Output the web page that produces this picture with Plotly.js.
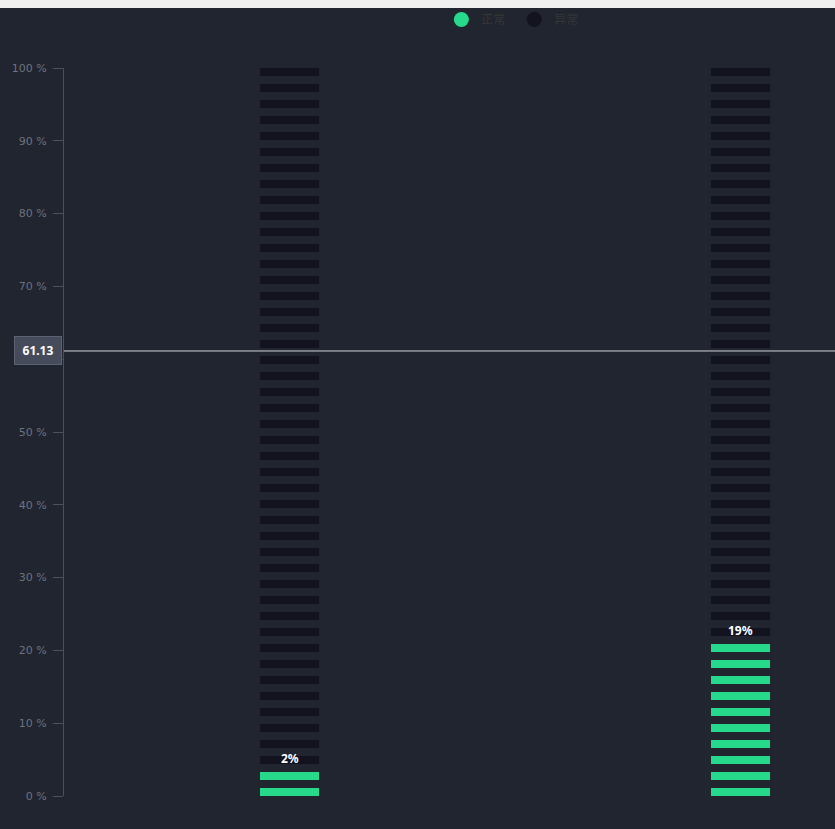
<!DOCTYPE html>
<html>
<head>
<meta charset="utf-8">
<script src="https://cdn.plot.ly/plotly-3.0.1.min.js"></script>
<style>
  html, body { margin: 0; padding: 0; background: #efefef; }
  #chart { position: absolute; top: 5px; left: 0; width: 835px; height: 824px; }
  #strip { position: absolute; top: 0; left: 0; width: 835px; height: 8px; background: #efefef; z-index: 10; }
</style>
</head>
<body>
<div id="chart"></div>
<div id="strip"></div>
<script>
// ---- data ----
const categories = ["设备A", "设备B"];
const normalPct = [2, 19];          // 正常 share (%)
const legendNames = ["正常", "异常"];
const markValue = 61.13;            // horizontal mark line
const yTicks = [0, 10, 20, 30, 40, 50, 60, 70, 80, 90, 100];
const yTickText = yTicks.map(v => v === 60 ? "" : v + " %");

// ---- style constants ----
const SEGMENTS = 46;
const period = 100 / (SEGMENTS - 0.5);
const segH = period / 2;
const green = "#27d98a";
const dark = "#13131f";
const bg = "#20252f";

const traces = [];

// background (异常) segments
const bx = [], bBase = [], bY = [];
categories.forEach(c => {
  for (let k = 0; k < SEGMENTS; k++) { bx.push(c); bBase.push(k * period); bY.push(segH); }
});
traces.push({ type: "bar", x: bx, y: bY, base: bBase, width: 0.131,
  marker: { color: dark, line: { width: 0 } }, showlegend: false, hoverinfo: "skip" });

// green (正常) segments
const gx = [], gBase = [], gY = [];
const labelY = [];
categories.forEach((c, i) => {
  const n = Math.round(normalPct[i] / period) + 1;
  for (let k = 0; k < n; k++) { gx.push(c); gBase.push(k * period); gY.push(segH); }
  labelY.push((n - 1) * period + segH);
});
traces.push({ type: "bar", x: gx, y: gY, base: gBase, width: 0.131,
  marker: { color: green, line: { width: 0 } }, showlegend: false, hoverinfo: "skip" });

// legend entries
traces.push({ type: "scatter", mode: "markers", x: [null], y: [null], name: legendNames[0],
  marker: { color: green, size: 15, symbol: "circle" } });
traces.push({ type: "scatter", mode: "markers", x: [null], y: [null], name: legendNames[1],
  marker: { color: dark, size: 15, symbol: "circle" } });

const valueLabels = categories.map((c, i) => ({
  x: c, y: labelY[i], xref: "x", yref: "y", yanchor: "bottom", yshift: 3,
  text: "<b>" + normalPct[i] + "%</b>", showarrow: false,
  font: { color: "#ffffff", size: 12, family: "Noto Sans, sans-serif" }
}));

const layout = {
  width: 835, height: 824,
  paper_bgcolor: bg, plot_bgcolor: bg,
  margin: { l: 64, r: 0, t: 63, b: 33 },
  barmode: "overlay",
  showlegend: true,
  legend: { orientation: "h", x: 0.616, xanchor: "center", y: 1, yanchor: "top",
    yref: "container", xref: "container",
    font: { color: "#363636", size: 12, family: "Noto Sans CJK SC, sans-serif" },
    itemclick: false, entrywidth: 28, bgcolor: "rgba(0,0,0,0)" },
  xaxis: { type: "category", range: [-0.5, 1.2095], visible: false, fixedrange: true },
  yaxis: { range: [0, 100], tickvals: yTicks, ticktext: yTickText, showgrid: false, zeroline: false,
    showline: true, linecolor: "#4a505e", linewidth: 1, ticks: "outside", ticklen: 10,
    tickcolor: "#4a505e", tickfont: { color: "#6c7280", size: 11, family: "DejaVu Sans, sans-serif" },
    ticklabelstandoff: 4 },
  shapes: [{ type: "line", xref: "paper", x0: 0, x1: 1, y0: markValue, y1: markValue,
    line: { color: "#d2d4d8", width: 1 } }],
  annotations: valueLabels.concat([{ xref: "paper", x: 0, xanchor: "right", xshift: -2, y: markValue, yanchor: "middle",
    text: "<b>" + markValue.toFixed(2) + "</b>", showarrow: false,
    font: { color: "#ffffff", size: 12, family: "Noto Sans, sans-serif" },
    bgcolor: "#464b5b", bordercolor: "#5c6272", borderwidth: 1, borderpad: 5,
    width: 36 }])
};

Plotly.newPlot("chart", traces, layout, { displayModeBar: false, staticPlot: true });
</script>
</body>
</html>
